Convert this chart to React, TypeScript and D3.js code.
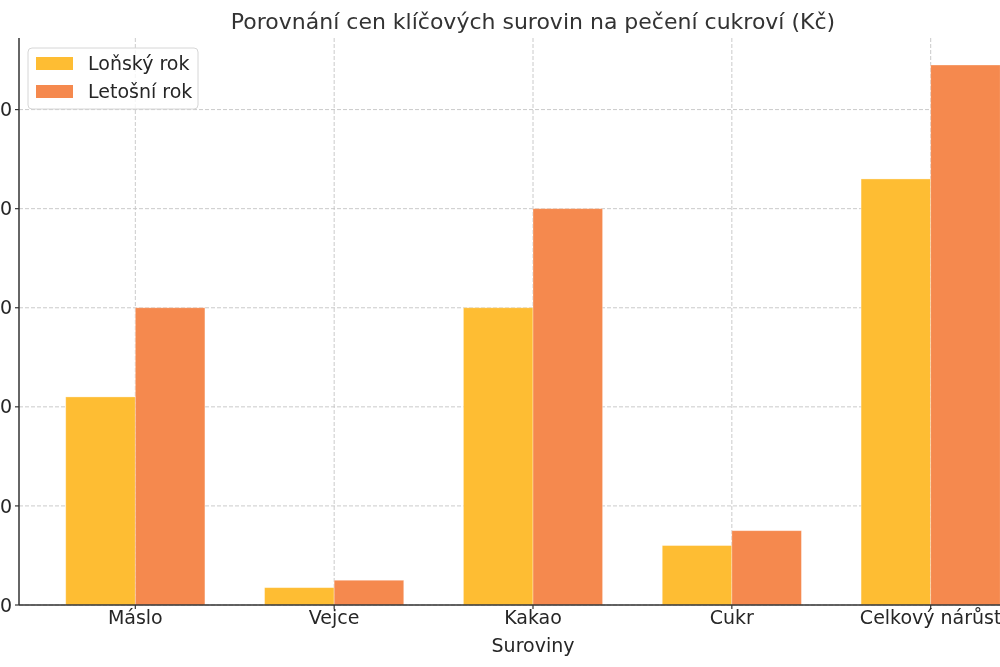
import React, { useEffect, useRef } from 'react';
import * as d3 from 'd3';

const categories = ['Máslo', 'Vejce', 'Kakao', 'Cukr', 'Celkový nárůst'];
const lastYear = [42, 3.5, 60, 12, 86];
const thisYear = [60, 5, 80, 15, 109];
const yTicks = [0, 20, 40, 60, 80, 100];
const seriesNames = ['Loňský rok', 'Letošní rok'];
const seriesColors = ['#FEBD33', '#F5894E'];

const title = 'Porovnání cen klíčových surovin na pečení cukroví (Kč)';
const xTitle = 'Suroviny';

function App() {
  const svgRef = useRef<SVGSVGElement | null>(null);

  useEffect(() => {
    if (!svgRef.current) return;

    const width = 1000;
    const height = 667;
    const left = 19;
    const right = 1047; // axes run past the picture's right edge
    const top = 38;
    const bottom = 605;
    const barW = 0.35;
    const textColor = '#262626';

    const svg = d3.select(svgRef.current);
    svg.selectAll('*').remove();
    svg.attr('width', width).attr('height', height)
      .style('font-family', "'DejaVu Sans', sans-serif");

    const x = d3.scaleLinear()
      .domain([-0.35 - 0.235, categories.length - 1 + 0.35 + 0.235])
      .range([left, right]);

    const yMax = d3.max(thisYear.concat(lastYear)) as number;
    const y = d3.scaleLinear()
      .domain([0, yMax * 1.05])
      .range([bottom, top]);

    // grid
    const grid = svg.append('g');
    yTicks.forEach(t => {
      grid.append('line')
        .attr('x1', left).attr('x2', right)
        .attr('y1', y(t)).attr('y2', y(t))
        .attr('stroke', '#c4c4c4').attr('stroke-width', 0.9)
        .attr('stroke-dasharray', '4,2');
    });
    categories.forEach((_, i) => {
      grid.append('line')
        .attr('x1', x(i)).attr('x2', x(i))
        .attr('y1', top).attr('y2', bottom)
        .attr('stroke', '#c4c4c4').attr('stroke-width', 0.9)
        .attr('stroke-dasharray', '4,2');
    });

    // bars
    const series = [lastYear, thisYear];
    series.forEach((vals, s) => {
      svg.append('g').selectAll('rect')
        .data(vals)
        .join('rect')
        .attr('x', (_, i) => x(i + (s === 0 ? -barW : 0)))
        .attr('width', x(barW) - x(0))
        .attr('y', d => y(d))
        .attr('height', d => bottom - y(d))
        .attr('fill', seriesColors[s])
        .attr('stroke', '#ffffff')
        .attr('stroke-opacity', 0.4)
        .attr('stroke-width', 0.8);
    });

    // spines
    svg.append('line')
      .attr('x1', left).attr('x2', left)
      .attr('y1', top).attr('y2', bottom)
      .attr('stroke', '#333').attr('stroke-width', 1.5);
    svg.append('line')
      .attr('x1', left).attr('x2', right)
      .attr('y1', bottom).attr('y2', bottom)
      .attr('stroke', '#333').attr('stroke-width', 1.5);

    // y ticks (labels are cut off by the left edge, as in the picture)
    yTicks.forEach(t => {
      svg.append('line')
        .attr('x1', left - 4).attr('x2', left)
        .attr('y1', y(t)).attr('y2', y(t))
        .attr('stroke', '#333').attr('stroke-width', 1.2);
      svg.append('text')
        .attr('x', left - 7).attr('y', y(t))
        .attr('dy', '0.35em')
        .attr('text-anchor', 'end')
        .attr('font-size', 19)
        .attr('fill', textColor)
        .text(t);
    });

    // x ticks
    categories.forEach((c, i) => {
      svg.append('line')
        .attr('x1', x(i)).attr('x2', x(i))
        .attr('y1', bottom).attr('y2', bottom + 4)
        .attr('stroke', '#333').attr('stroke-width', 1.2);
      svg.append('text')
        .attr('x', x(i)).attr('y', 624)
        .attr('text-anchor', 'middle')
        .attr('font-size', 19)
        .attr('fill', textColor)
        .text(c);
    });

    const mid = (left + right) / 2;
    svg.append('text')
      .attr('x', mid).attr('y', 652)
      .attr('text-anchor', 'middle')
      .attr('font-size', 19)
      .attr('fill', textColor)
      .text(xTitle);

    svg.append('text')
      .attr('x', mid).attr('y', 29)
      .attr('text-anchor', 'middle')
      .attr('font-size', 22)
      .attr('fill', '#333')
      .text(title);

    // legend
    const legend = svg.append('g').attr('transform', 'translate(28,48)');
    legend.append('rect')
      .attr('width', 170).attr('height', 61)
      .attr('rx', 4)
      .attr('fill', 'rgba(255,255,255,0.8)')
      .attr('stroke', '#d6d6d6');
    seriesNames.forEach((name, i) => {
      legend.append('rect')
        .attr('x', 8).attr('y', 9 + i * 28)
        .attr('width', 37).attr('height', 13)
        .attr('fill', seriesColors[i]);
      legend.append('text')
        .attr('x', 60).attr('y', 15.5 + i * 28)
        .attr('dy', '0.35em')
        .attr('font-size', 19)
        .attr('fill', textColor)
        .text(name);
    });
  }, []);

  return (
    <svg ref={svgRef} style={{ position: 'fixed', left: 0, top: 0, display: 'block' }}></svg>
  );
}

export default App;
